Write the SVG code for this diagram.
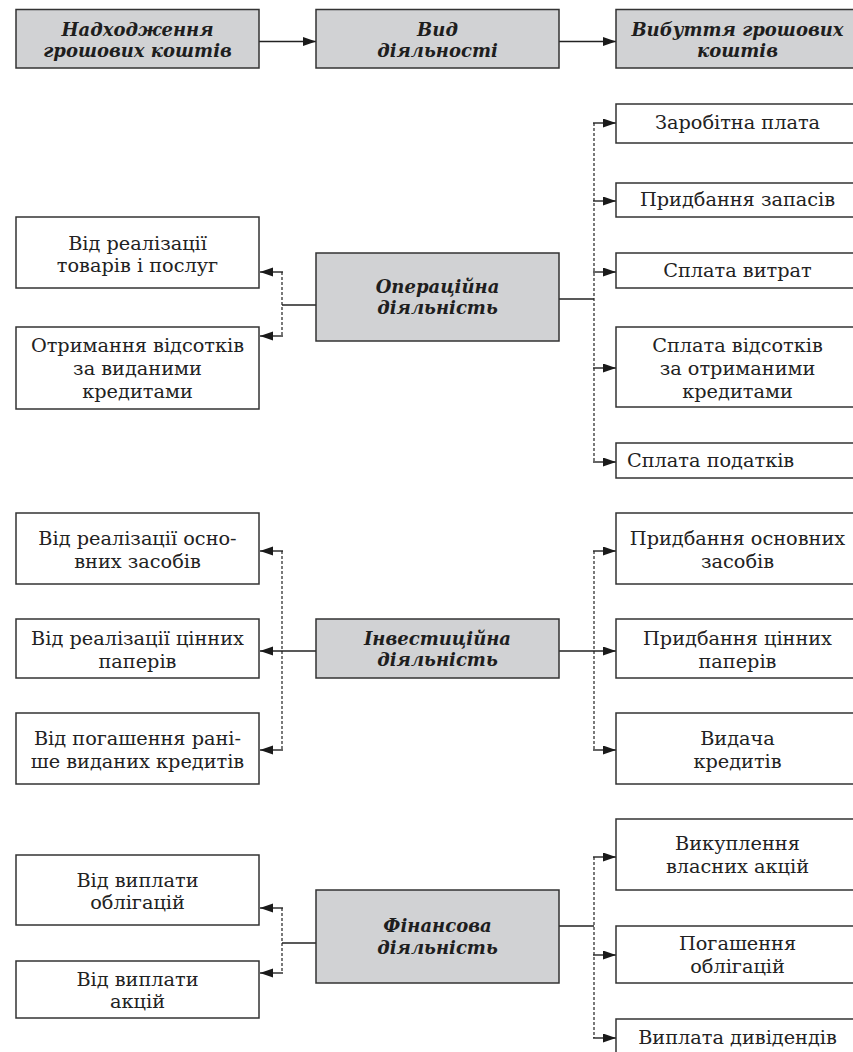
<svg xmlns="http://www.w3.org/2000/svg" width="853" height="1052" viewBox="0 0 853 1052">
<style>
.hb{fill:#d1d2d4;stroke:#333;stroke-width:1.5}
.wb{fill:#fff;stroke:#333;stroke-width:1.5}
.ht{font-family:"DejaVu Serif","Liberation Serif",serif;font-weight:bold;font-style:italic;font-size:18px;fill:#1e1e1e;text-anchor:middle}
.bt{font-family:"DejaVu Serif","Liberation Serif",serif;font-size:19.3px;fill:#222;text-anchor:middle}
.sl{stroke:#222;stroke-width:1.4;fill:none}
.dl{stroke:#222;stroke-width:1.2;fill:none;stroke-dasharray:3 2}
</style>
<defs>
<marker id="ah" markerUnits="userSpaceOnUse" markerWidth="14" markerHeight="10" refX="13" refY="4.5" orient="auto">
<path d="M0,0 L13,4.5 L0,9 z" fill="#1a1a1a"/>
</marker>
</defs>
<rect width="853" height="1052" fill="#fff"/>

<g id="connectors">
<line class="sl" x1="259" y1="41.5" x2="316" y2="41.5" marker-end="url(#ah)"/>
<line class="sl" x1="559" y1="41.5" x2="616" y2="41.5" marker-end="url(#ah)"/>

<!-- operating -->
<line class="sl" x1="316" y1="305" x2="282" y2="305"/>
<line class="dl" x1="282" y1="272" x2="282" y2="336"/>
<line class="sl" x1="283" y1="272" x2="260" y2="272" marker-end="url(#ah)"/>
<line class="sl" x1="283" y1="336" x2="260" y2="336" marker-end="url(#ah)"/>
<line class="sl" x1="559" y1="299" x2="594" y2="299"/>
<line class="dl" x1="594" y1="123" x2="594" y2="462"/>
<line class="sl" x1="593" y1="123" x2="616" y2="123" marker-end="url(#ah)"/>
<line class="sl" x1="593" y1="201" x2="616" y2="201" marker-end="url(#ah)"/>
<line class="sl" x1="593" y1="272" x2="616" y2="272" marker-end="url(#ah)"/>
<line class="sl" x1="593" y1="368" x2="616" y2="368" marker-end="url(#ah)"/>
<line class="sl" x1="593" y1="462" x2="616" y2="462" marker-end="url(#ah)"/>

<!-- investing -->
<line class="sl" x1="316" y1="651" x2="260" y2="651" marker-end="url(#ah)"/>
<line class="dl" x1="282" y1="551" x2="282" y2="750"/>
<line class="sl" x1="283" y1="551" x2="260" y2="551" marker-end="url(#ah)"/>
<line class="sl" x1="283" y1="750" x2="260" y2="750" marker-end="url(#ah)"/>
<line class="sl" x1="559" y1="651" x2="616" y2="651" marker-end="url(#ah)"/>
<line class="dl" x1="594" y1="551" x2="594" y2="750"/>
<line class="sl" x1="593" y1="551" x2="616" y2="551" marker-end="url(#ah)"/>
<line class="sl" x1="593" y1="750" x2="616" y2="750" marker-end="url(#ah)"/>

<!-- financing -->
<line class="sl" x1="316" y1="943" x2="282" y2="943"/>
<line class="dl" x1="282" y1="908" x2="282" y2="973"/>
<line class="sl" x1="283" y1="908" x2="260" y2="908" marker-end="url(#ah)"/>
<line class="sl" x1="283" y1="973" x2="260" y2="973" marker-end="url(#ah)"/>
<line class="sl" x1="559" y1="926" x2="594" y2="926"/>
<line class="dl" x1="594" y1="857" x2="594" y2="1038"/>
<line class="sl" x1="593" y1="857" x2="616" y2="857" marker-end="url(#ah)"/>
<line class="sl" x1="593" y1="955" x2="616" y2="955" marker-end="url(#ah)"/>
<line class="sl" x1="593" y1="1038" x2="616" y2="1038" marker-end="url(#ah)"/>
</g>

<!-- header -->
<g id="h-in"><rect class="hb" x="16" y="9.5" width="243" height="58.5"/>
<text class="ht" x="137.5" y="36">Надходження</text><text class="ht" x="137.5" y="57">грошових коштів</text></g>
<g id="h-type"><rect class="hb" x="316" y="9.5" width="243" height="58.5"/>
<text class="ht" x="437.5" y="36">Вид</text><text class="ht" x="437.5" y="57">діяльності</text></g>
<g id="h-out"><rect class="hb" x="616" y="9.5" width="243" height="58.5"/>
<text class="ht" x="737.5" y="36">Вибуття грошових</text><text class="ht" x="737.5" y="57">коштів</text></g>

<!-- operating -->
<g id="op"><rect class="hb" x="316" y="253" width="243" height="88"/>
<text class="ht" x="437.5" y="293">Операційна</text><text class="ht" x="437.5" y="314">діяльність</text></g>
<g id="op-in1"><rect class="wb" x="16" y="217" width="243" height="71"/>
<text class="bt" x="137.5" y="250">Від реалізації</text><text class="bt" x="137.5" y="272">товарів і послуг</text></g>
<g id="op-in2"><rect class="wb" x="16" y="327" width="243" height="82"/>
<text class="bt" x="137.5" y="352">Отримання відсотків</text><text class="bt" x="137.5" y="375">за виданими</text><text class="bt" x="137.5" y="398">кредитами</text></g>
<g id="op-out1"><rect class="wb" x="616" y="104" width="243" height="39"/>
<text class="bt" x="737.5" y="129">Заробітна плата</text></g>
<g id="op-out2"><rect class="wb" x="616" y="183" width="243" height="34"/>
<text class="bt" x="737.5" y="206">Придбання запасів</text></g>
<g id="op-out3"><rect class="wb" x="616" y="253" width="243" height="35"/>
<text class="bt" x="737.5" y="277">Сплата витрат</text></g>
<g id="op-out4"><rect class="wb" x="616" y="327" width="243" height="80"/>
<text class="bt" x="737.5" y="352">Сплата відсотків</text><text class="bt" x="737.5" y="375">за отриманими</text><text class="bt" x="737.5" y="398">кредитами</text></g>
<g id="op-out5"><rect class="wb" x="616" y="443" width="243" height="35"/>
<text class="bt" x="627" y="467" style="text-anchor:start">Сплата податків</text></g>

<!-- investing -->
<g id="inv"><rect class="hb" x="316" y="619" width="243" height="59"/>
<text class="ht" x="437.5" y="645">Інвестиційна</text><text class="ht" x="437.5" y="666">діяльність</text></g>
<g id="inv-in1"><rect class="wb" x="16" y="513" width="243" height="71"/>
<text class="bt" x="137.5" y="545">Від реалізації осно-</text><text class="bt" x="137.5" y="568">вних засобів</text></g>
<g id="inv-in2"><rect class="wb" x="16" y="619" width="243" height="59"/>
<text class="bt" x="137.5" y="645">Від реалізації цінних</text><text class="bt" x="137.5" y="668">паперів</text></g>
<g id="inv-in3"><rect class="wb" x="16" y="713" width="243" height="71"/>
<text class="bt" x="137.5" y="745">Від погашення рані-</text><text class="bt" x="137.5" y="768">ше виданих кредитів</text></g>
<g id="inv-out1"><rect class="wb" x="616" y="513" width="243" height="71"/>
<text class="bt" x="737.5" y="545">Придбання основних</text><text class="bt" x="737.5" y="568">засобів</text></g>
<g id="inv-out2"><rect class="wb" x="616" y="619" width="243" height="59"/>
<text class="bt" x="737.5" y="645">Придбання цінних</text><text class="bt" x="737.5" y="668">паперів</text></g>
<g id="inv-out3"><rect class="wb" x="616" y="713" width="243" height="71"/>
<text class="bt" x="737.5" y="745">Видача</text><text class="bt" x="737.5" y="768">кредитів</text></g>

<!-- financing -->
<g id="fin"><rect class="hb" x="316" y="890" width="243" height="93"/>
<text class="ht" x="437.5" y="932">Фінансова</text><text class="ht" x="437.5" y="954">діяльність</text></g>
<g id="fin-in1"><rect class="wb" x="16" y="855" width="243" height="70"/>
<text class="bt" x="137.5" y="887">Від виплати</text><text class="bt" x="137.5" y="909">облігацій</text></g>
<g id="fin-in2"><rect class="wb" x="16" y="961" width="243" height="57"/>
<text class="bt" x="137.5" y="986">Від виплати</text><text class="bt" x="137.5" y="1008">акцій</text></g>
<g id="fin-out1"><rect class="wb" x="616" y="819" width="243" height="71"/>
<text class="bt" x="737.5" y="850">Викуплення</text><text class="bt" x="737.5" y="873">власних акцій</text></g>
<g id="fin-out2"><rect class="wb" x="616" y="926" width="243" height="57"/>
<text class="bt" x="737.5" y="950">Погашення</text><text class="bt" x="737.5" y="973">облігацій</text></g>
<g id="fin-out3"><rect class="wb" x="616" y="1019" width="243" height="45"/>
<text class="bt" x="737.5" y="1044">Виплата дивідендів</text></g>
</svg>
